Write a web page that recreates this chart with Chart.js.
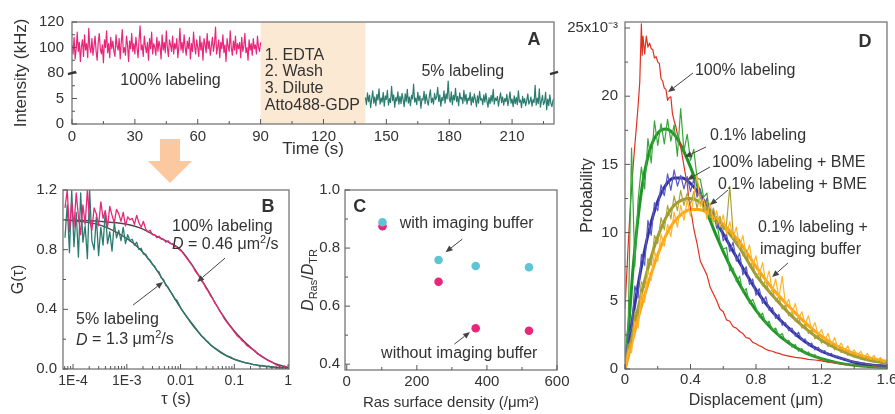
<!DOCTYPE html>
<html>
<head>
<meta charset="utf-8">
<title>Ras diffusion figure</title>
<script src="https://cdn.jsdelivr.net/npm/chart.js@4.4.1/dist/chart.umd.min.js"></script>
<style>
  html, body { margin:0; padding:0; background:#fff; }
  #fig { position:relative; width:895px; height:414px; overflow:hidden; background:#fff; }
  #fig canvas, #fig svg { position:absolute; }
</style>
</head>
<body>
<div id="fig">
  <svg width="895" height="414" style="left:0px;top:0px">
    <polygon points="160,139 180,139 180,161 192,161 170,183 148,161 160,161" fill="#fcc8a0"/>
  </svg>
  <canvas id="chartA" width="575" height="160" style="left:0px;top:0px"></canvas>
  <canvas id="chartB" width="300" height="244" style="left:0px;top:170px"></canvas>
  <canvas id="chartC" width="300" height="244" style="left:300px;top:170px"></canvas>
  <canvas id="chartD" width="340" height="414" style="left:555px;top:0px"></canvas>
</div>
<script>
// ======================= DATA =======================
// ---- Panel A: intensity time traces (kHz) ----
const timeTicks = [0, 15, 30, 45, 60, 75, 90, 105, 120, 135, 150, 165, 180, 195, 210, 225];
const timeTickLabels = ['0', '', '30', '', '60', '', '90', '', '120', '', '150', '', '180', '', '210', ''];
const upperTicks = [80, 90, 100, 110, 120];
const upperTickLabels = ['80', '', '100', '', '120'];
const lowerTicks = [0, 2.5, 5, 7.5, 10];
const lowerTickLabels = ['0', '', '5', '', ''];
const treatmentStart = 90, treatmentEnd = 140;
const pinkStart = 0, pinkEnd = 90;
const pinkIntensity = [
102, 95, 108, 91, 99, 112, 97, 104, 89, 101, 106, 93, 110, 98, 103, 92, 115, 100, 96, 107,
94, 101, 109, 97, 90, 104, 111, 99, 95, 102, 88, 106, 100, 113, 96, 103, 92, 108, 99, 105,
97, 93, 110, 101, 98, 107, 91, 104, 114, 96, 100, 94, 109, 102, 89, 105, 99, 111, 97, 103,
95, 108, 100, 92, 106, 117, 98, 102, 93, 109, 101, 96, 104, 90, 107, 99, 112, 95, 103, 100,
94, 108, 97, 105, 101, 91, 110, 98, 104, 96, 113, 100, 93, 106, 102, 97, 109, 95, 103, 99,
107, 92, 101, 115, 98, 104, 96, 110, 100, 94, 105, 99, 108, 91, 103, 97, 112, 101, 95, 106,
100, 93, 109, 98, 104, 90, 107, 102, 96, 111, 99, 105, 94, 101, 108, 97, 103, 116, 95, 100,
106, 92, 104, 99, 110, 96, 102, 89, 107, 101, 97, 113, 100, 94, 105, 98, 109, 95, 103, 99,
104, 92, 108, 97, 101, 111, 96, 100, 90, 106, 98, 103, 94, 107, 99, 102, 95, 109, 100, 97, 104];
const tealStart = 140, tealEnd = 230;
const tealIntensity = [
5.2, 3.8, 6.1, 4.4, 5.6, 3.2, 4.9, 6.5, 4.1, 5.3, 3.6, 5.8, 4.7, 6.9, 3.9, 5.1, 4.3, 6.2, 3.5, 5.5,
4.8, 6.6, 3.7, 5.0, 4.2, 7.4, 4.6, 5.7, 3.3, 5.2, 4.5, 6.3, 3.9, 5.4, 4.0, 6.0, 4.8, 3.4, 5.9, 4.4,
6.8, 4.1, 5.3, 3.6, 5.6, 4.9, 7.8, 4.3, 5.1, 3.8, 6.2, 4.6, 5.5, 3.1, 5.0, 4.7, 6.4, 4.0, 5.8, 4.5,
3.7, 5.4, 6.7, 4.2, 5.1, 3.9, 6.0, 4.8, 5.3, 7.2, 4.4, 5.7, 3.5, 5.2, 4.6, 6.5, 4.1, 5.9, 4.9, 8.4,
5.0, 4.3, 6.3, 3.8, 5.6, 4.7, 7.0, 4.4, 5.4, 3.6, 6.1, 4.9, 5.2, 4.0, 6.6, 4.5, 5.8, 3.9, 5.1, 4.6,
6.2, 3.7, 5.3, 4.2, 5.9, 4.8, 3.4, 5.5, 4.1, 6.4, 4.7, 5.0, 3.8, 5.7, 4.3, 6.0, 4.5, 3.3, 5.2, 4.0,
5.6, 4.4, 6.8, 3.9, 5.1, 4.6, 5.4, 3.5, 4.9, 6.1, 4.2, 5.3, 3.7, 5.0, 4.4, 5.8, 3.6, 4.8, 6.3, 4.1,
4.9, 3.4, 5.5, 4.0, 5.2, 3.8, 6.5, 4.3, 4.7, 3.2, 5.4, 4.1, 5.0, 3.6, 4.6, 5.9, 3.9, 4.4, 5.3, 3.5,
4.8, 4.2, 7.6, 3.7, 5.1, 4.0, 6.9, 3.3, 4.5, 5.6, 3.8, 4.3, 6.2, 2.8, 4.9, 3.6, 5.7, 4.1, 3.4, 4.6, 5.0];

// ---- Panel B: autocorrelation G(tau) ----
const tauMajorTicks = [1e-4, 1e-3, 0.01, 0.1, 1];
const tauMajorLabels = ['1E-4', '1E-3', '0.01', '0.1', '1'];
const gTicks = [0, 0.2, 0.4, 0.6, 0.8, 1.0, 1.2];
const gTickLabels = ['0.0', '', '0.4', '', '0.8', '', '1.2'];
const bLogTauStart = -4.15, bLogTauStep = 1 / 24;   // lag grid of the measured curves
const g100 = [
1.08, 1.20, 0.92, 1.12, 0.95, 1.18, 1.02, 0.90, 1.10, 0.97, 1.20, 1.00,
0.93, 1.08, 1.04, 0.96, 1.12, 1.01, 1.06, 0.95, 1.09, 1.03, 0.98, 1.07,
1.04, 0.99, 1.05, 0.96, 1.02, 1.00, 1.01, 0.97, 1.03, 0.98, 0.95, 0.99,
0.94, 0.92, 0.93, 0.90, 0.90, 0.88, 0.89, 0.87, 0.87, 0.85, 0.86, 0.84,
0.84, 0.82, 0.82, 0.80, 0.79, 0.77, 0.75, 0.73, 0.71, 0.69, 0.66, 0.64,
0.62, 0.59, 0.57, 0.54, 0.52, 0.49, 0.47, 0.44, 0.42, 0.39, 0.37, 0.34,
0.32, 0.30, 0.28, 0.26, 0.24, 0.22, 0.21, 0.19, 0.18, 0.16, 0.15, 0.14,
0.13, 0.12, 0.10, 0.095, 0.085, 0.075, 0.065, 0.055, 0.05, 0.04, 0.03, 0.025,
0.015, -0.01, 0.02, 0.005];
const g5 = [
0.88, 1.10, 0.78, 1.20, 0.82, 1.05, 0.75, 1.18, 0.85, 0.96, 0.74, 1.20,
0.86, 0.80, 1.02, 0.76, 0.95, 0.83, 1.06, 0.84, 0.92, 0.79, 0.98, 0.88,
0.93, 0.86, 0.95, 0.84, 0.90, 0.86, 0.87, 0.83, 0.85, 0.80, 0.81, 0.77,
0.77, 0.74, 0.73, 0.70, 0.69, 0.66, 0.65, 0.61, 0.60, 0.56, 0.55, 0.52,
0.50, 0.47, 0.46, 0.43, 0.40, 0.38, 0.36, 0.34, 0.32, 0.30, 0.28, 0.26,
0.24, 0.22, 0.21, 0.19, 0.18, 0.16, 0.15, 0.14, 0.13, 0.12, 0.11, 0.10,
0.09, 0.085, 0.08, 0.07, 0.065, 0.06, 0.055, 0.05, 0.045, 0.04, 0.04, 0.035,
0.03, 0.03, 0.025, 0.02, 0.025, 0.02, 0.015, 0.02, 0.01, 0.015, 0.01, 0.005,
0.01, 0.0, 0.01, 0.005];
const fitTau = [7e-5, 3.2e-4, 1e-3, 1.8e-3, 3.2e-3, 5.6e-3, 0.01, 0.018, 0.032, 0.056, 0.1, 0.18, 0.32, 0.56, 1];
const fitG100 = [1.0, 0.99, 0.97, 0.945, 0.90, 0.855, 0.80, 0.675, 0.53, 0.38, 0.255, 0.16, 0.085, 0.038, 0.01];
const fitG5 = [1.0, 0.965, 0.875, 0.80, 0.69, 0.555, 0.41, 0.28, 0.18, 0.11, 0.065, 0.038, 0.022, 0.012, 0.007];

// ---- Panel C: D_Ras / D_TR vs surface density ----
const densityTicks = [0, 100, 200, 300, 400, 500, 600];
const densityTickLabels = ['0', '', '200', '', '400', '', '600'];
const ratioTicks = [0.4, 0.5, 0.6, 0.7, 0.8, 0.9, 1.0];
const ratioTickLabels = ['0.4', '', '0.6', '', '0.8', '', '1.0'];
const rasDensity = [262, 368, 520];
const ratioWithBuffer = [0.759, 0.738, 0.734];
const ratioWithoutBuffer = [0.684, 0.524, 0.515];

// ---- Panel D: displacement distributions (x10^-3) ----
const dispTicks = [0, 0.2, 0.4, 0.6, 0.8, 1.0, 1.2, 1.4, 1.6];
const dispTickLabels = ['0', '', '0.4', '', '0.8', '', '1.2', '', '1.6'];
const probTicks = [0, 2.5, 5, 7.5, 10, 12.5, 15, 17.5, 20, 22.5, 25];
const probTickLabels = ['0', '', '5', '', '10', '', '15', '', '20', '', '25x10\u207B\u00B3'];
const redDisp = [0, 0.01, 0.02, 0.03, 0.04, 0.05, 0.06, 0.07, 0.08, 0.09, 0.10, 0.105,
  0.11, 0.12, 0.13, 0.14, 0.15, 0.16, 0.17, 0.18, 0.19, 0.20, 0.21, 0.22, 0.23, 0.24, 0.25, 0.26, 0.27, 0.28, 0.29, 0.30,
  0.31, 0.32, 0.33, 0.34, 0.35, 0.36, 0.37, 0.38, 0.39, 0.40, 0.42, 0.44, 0.46, 0.48, 0.50, 0.52, 0.54, 0.56, 0.58, 0.60,
  0.62, 0.64, 0.66, 0.68, 0.70, 0.72, 0.74, 0.76, 0.78, 0.80, 0.82, 0.84, 0.86, 0.88, 0.90, 0.92, 0.94, 0.96, 0.98, 1.00,
  1.04, 1.08, 1.12, 1.16, 1.20, 1.24, 1.28, 1.32, 1.36, 1.40, 1.45, 1.50, 1.55, 1.60];
const redProb = [4.4, 6.8, 9.2, 11.4, 13.2, 14.9, 16.4, 17.8, 19.3, 21.0, 25.3, 23.0,
  24.4, 23.1, 24.4, 23.6, 23.9, 23.5, 23.4, 22.8, 22.9, 22.5, 22.4, 21.3, 21.1, 20.6, 20.5, 19.7, 19.9, 19.95, 18.7, 18.2,
  17.8, 17.2, 16.9, 16.3, 15.6, 14.9, 14.2, 13.6, 12.4, 11.8, 10.3, 9.2, 7.9, 7.4, 6.9, 6.0, 5.5, 5.0, 4.4, 4.2,
  3.6, 3.5, 3.1, 3.0, 2.75, 2.6, 2.3, 2.25, 1.95, 1.85, 1.7, 1.6, 1.45, 1.35, 1.3, 1.2, 1.15, 1.05, 1.0, 0.95,
  0.85, 0.8, 0.7, 0.66, 0.6, 0.5, 0.45, 0.38, 0.32, 0.28, 0.22, 0.18, 0.14, 0.1];
const histStep = 0.02;   // bin width of the measured histograms
const greenProb = [0.3, 3.5, 16.2, 7.5, 12.4, 14.8, 13.2, 16.9, 15.1, 18.2,
  16.4, 18.0, 16.5, 18.3, 16.7, 17.9, 15.6, 19.1, 16.0, 17.2,
  15.3, 16.1, 14.0, 13.9, 12.6, 12.9, 11.2, 10.8, 10.9, 9.3,
  8.8, 8.9, 7.2, 7.4, 6.4, 6.8, 5.6, 5.9, 4.8, 5.1,
  4.5, 3.8, 4.1, 3.3, 3.5, 2.8, 3.0, 2.4, 2.6, 2.0,
  2.1, 1.6, 1.8, 1.3, 1.5, 1.1, 1.25, 0.9, 1.05, 0.75,
  0.8, 0.6, 0.7, 0.5, 0.55, 0.4, 0.45, 0.35, 0.38, 0.3,
  0.28, 0.25, 0.24, 0.2, 0.19, 0.16, 0.15, 0.12, 0.12, 0.1, 0.09];
const blueProb = [0.2, 2.4, 3.0, 6.1, 5.2, 8.4, 7.6, 10.9, 9.8, 12.2,
  11.6, 13.5, 12.7, 14.3, 13.1, 14.6, 13.4, 14.2, 13.2, 14.1,
  13.0, 13.9, 12.6, 13.2, 11.9, 12.5, 11.1, 11.6, 10.3, 10.8,
  9.4, 9.9, 8.6, 9.3, 7.9, 8.5, 6.9, 7.5, 6.2, 6.6,
  5.4, 5.9, 4.8, 5.3, 4.3, 4.5, 3.7, 4.0, 3.2, 3.4,
  2.8, 3.0, 2.4, 2.7, 2.1, 2.2, 1.7, 1.9, 1.4, 1.6,
  1.2, 1.35, 1.0, 1.15, 0.85, 0.95, 0.7, 0.8, 0.6, 0.62,
  0.48, 0.52, 0.4, 0.44, 0.33, 0.36, 0.27, 0.3, 0.22, 0.24, 0.19];
const oliveProb = [0.3, 1.8, 2.0, 4.2, 3.9, 6.4, 6.0, 8.1, 7.6, 9.8,
  9.2, 11.1, 10.2, 12.0, 11.0, 12.7, 11.6, 13.1, 12.0, 12.9,
  12.1, 13.0, 11.8, 12.8, 11.6, 12.3, 11.1, 11.8, 10.6, 11.2,
  10.2, 10.6, 13.4, 10.0, 9.1, 9.5, 8.3, 8.7, 7.5, 7.8,
  6.7, 7.1, 6.1, 6.5, 5.6, 5.8, 5.0, 5.3, 4.4, 4.7,
  3.9, 4.2, 3.5, 3.8, 3.0, 3.3, 2.6, 2.9, 2.2, 2.5,
  1.9, 2.15, 1.65, 1.9, 1.4, 1.6, 1.2, 1.4, 1.0, 1.2,
  0.85, 1.05, 0.7, 0.95, 0.6, 0.85, 0.5, 0.7, 0.45, 0.6, 0.4];
const orangeProb = [0.1, 1.4, 1.2, 3.5, 3.0, 5.6, 4.9, 7.2, 6.5, 8.6,
  7.9, 9.9, 9.0, 10.6, 9.7, 11.5, 10.4, 12.0, 10.9, 12.4,
  11.2, 12.6, 14.3, 11.9, 12.5, 11.0, 12.2, 10.7, 11.6, 10.4,
  11.3, 9.9, 10.8, 9.6, 10.4, 8.9, 9.8, 8.3, 9.1, 7.6,
  8.3, 6.9, 7.8, 6.3, 7.2, 5.7, 6.6, 5.2, 6.8, 4.7,
  5.1, 4.1, 4.8, 3.7, 4.2, 3.3, 3.9, 2.9, 3.4, 2.5,
  2.9, 2.1, 2.6, 1.8, 2.3, 1.5, 1.9, 1.35, 1.7, 1.15,
  1.4, 1.0, 1.3, 0.85, 1.15, 0.7, 1.0, 0.6, 0.85, 0.5, 0.7];
const fitDisp = [0, 0.025, 0.05, 0.1, 0.15, 0.2, 0.25, 0.3, 0.35, 0.4, 0.45, 0.5, 0.6, 0.7, 0.8, 0.9, 1.0, 1.1, 1.2, 1.3, 1.4, 1.5, 1.6];
const greenFit = [0, 3.5, 7.5, 13.0, 16.0, 17.3, 17.6, 17.2, 16.2, 14.8, 13.2, 11.5, 8.6, 6.2, 4.3, 2.9, 1.9, 1.2, 0.75, 0.45, 0.27, 0.16, 0.09];
const blueFit = [0, 2.0, 4.0, 7.5, 10.3, 12.3, 13.5, 14.0, 14.0, 13.6, 12.9, 12.0, 9.9, 7.8, 5.8, 4.2, 3.0, 2.0, 1.3, 0.85, 0.5, 0.3, 0.2];
const oliveFit = [0, 1.4, 2.8, 5.5, 7.8, 9.7, 11.1, 12.0, 12.4, 12.5, 12.3, 11.8, 10.5, 8.9, 6.9, 5.4, 4.1, 3.0, 2.1, 1.45, 0.95, 0.62, 0.42];
const orangeFit = [0, 1.15, 2.3, 4.6, 6.6, 8.4, 9.8, 10.8, 11.4, 11.7, 11.7, 11.5, 10.6, 9.3, 7.5, 5.9, 4.6, 3.4, 2.4, 1.65, 1.15, 0.8, 0.54];

// ======================= STYLE / HELPERS =======================
const FONT = "'Liberation Sans', Arial, Helvetica, sans-serif";
const TXT = '#333';
const PINK = '#e8267a', TEAL = '#2b7b6f', CYAN = '#5ec5d5';
Chart.defaults.font.family = FONT;
Chart.defaults.color = TXT;

const evenSeries = (start, end, vals) => vals.map((v, i) => ({ x: start + i * (end - start) / (vals.length - 1), y: v }));
const xySeries = (xs, ys) => xs.map((x, i) => ({ x: x, y: ys[i] }));
const fixW = w => s => { s.width = w; s.paddingTop = 0; s.paddingBottom = 0; };
const fixH = h => s => { s.height = h; s.paddingLeft = 0; s.paddingRight = 0; };
const setTicks = list => s => { s.ticks = list.map(v => ({ value: v })); };
const labelsFrom = labels => (v, i) => labels[i];

function baseOptions() {
  return {
    responsive: false, animation: false, devicePixelRatio: 1,
    plugins: { legend: { display: false }, tooltip: { enabled: false } },
    elements: { point: { radius: 0 }, line: { borderJoinStyle: 'round' } }
  };
}
function axis(extra) {
  return Object.assign({ grid: { display: false, drawTicks: false }, border: { display: false } }, extra);
}

function drawRich(ctx, segs, x, y, size, align) {
  let total = 0;
  const parts = segs.map(s => {
    const st = s[1] || '';
    const small = st.includes('sup') || st.includes('sub');
    const fs = small ? Math.round(size * 0.68) : size;
    const f = (st.includes('i') && !st.includes('sub') ? 'italic ' : (st === 'i' ? 'italic ' : '')) + (st.includes('b') && !st.includes('sub') ? 'bold ' : '') + fs + 'px ' + FONT;
    ctx.font = f;
    const w = ctx.measureText(s[0]).width;
    total += w;
    return { t: s[0], f: f, w: w, dy: st.includes('sup') ? -size * 0.33 : (st.includes('sub') ? size * 0.3 : 0) };
  });
  let cx = align === 'center' ? x - total / 2 : (align === 'right' ? x - total : x);
  ctx.textAlign = 'left'; ctx.textBaseline = 'middle';
  parts.forEach(p => { ctx.font = p.f; ctx.fillText(p.t, cx, y + p.dy); cx += p.w; });
}
function drawArrow(ctx, x1, y1, x2, y2) {
  const ang = Math.atan2(y2 - y1, x2 - x1), L = 7, W = 3;
  const bx = x2 - L * Math.cos(ang), by = y2 - L * Math.sin(ang);
  ctx.strokeStyle = '#444'; ctx.fillStyle = '#444'; ctx.lineWidth = 1;
  ctx.beginPath(); ctx.moveTo(x1, y1); ctx.lineTo(bx, by); ctx.stroke();
  ctx.beginPath(); ctx.moveTo(x2, y2);
  ctx.lineTo(bx - W * Math.sin(ang), by + W * Math.cos(ang));
  ctx.lineTo(bx + W * Math.sin(ang), by - W * Math.cos(ang));
  ctx.closePath(); ctx.fill();
}
function drawTicks(chart) {
  const a = chart.chartArea, ctx = chart.ctx;
  ctx.strokeStyle = '#555'; ctx.lineWidth = 1;
  Object.values(chart.scales).forEach(s => {
    s.ticks.forEach(t => {
      const major = t.label !== '' && t.label != null;
      const len = major ? 5 : 3;
      const p = s.getPixelForValue(t.value);
      if (s.isHorizontal()) {
        if (p < a.left - 0.5 || p > a.right + 0.5) return;
        ctx.beginPath(); ctx.moveTo(p, a.bottom); ctx.lineTo(p, a.bottom - len); ctx.stroke();
      } else {
        if (p < a.top - 0.5 || p > a.bottom + 0.5) return;
        ctx.beginPath(); ctx.moveTo(a.left, p); ctx.lineTo(a.left + len, p); ctx.stroke();
      }
    });
  });
}
function makeDeco(cfg) {
  const P = (chart, xa, ya, x, y) => [chart.scales[xa].getPixelForValue(x), chart.scales[ya].getPixelForValue(y)];
  return {
    id: 'deco' + cfg.name,
    beforeDatasetsDraw(chart) {
      const ctx = chart.ctx, a = chart.chartArea;
      if (cfg.band) {
        const xs = chart.scales.x;
        const x1 = xs.getPixelForValue(cfg.band.from), x2 = xs.getPixelForValue(cfg.band.to);
        ctx.save(); ctx.fillStyle = cfg.band.color; ctx.fillRect(x1, a.top, x2 - x1, a.bottom - a.top); ctx.restore();
      }
    },
    afterDatasetsDraw(chart) {
      const ctx = chart.ctx, a = chart.chartArea;
      ctx.save();
      ctx.strokeStyle = '#808080'; ctx.lineWidth = 1.4;
      ctx.strokeRect(a.left, a.top, a.right - a.left, a.bottom - a.top);
      drawTicks(chart);
      if (cfg.breakAxis) {
        const yb = chart.scales[cfg.breakAxis].top;
        ctx.strokeStyle = '#333'; ctx.lineWidth = 2.4;
        [a.left, a.right].forEach(xb => { ctx.beginPath(); ctx.moveTo(xb - 4, yb + 1.2); ctx.lineTo(xb + 4, yb - 1.2); ctx.stroke(); });
      }
      (cfg.markers || []).forEach(m => {
        const p = P(chart, 'x', 'y', m.x, m.y);
        ctx.fillStyle = m.color; ctx.beginPath(); ctx.arc(p[0], p[1], m.r, 0, 2 * Math.PI); ctx.fill();
      });
      (cfg.arrows || []).forEach(r => {
        const p1 = P(chart, 'x', cfg.ya || 'y', r[0], r[1]), p2 = P(chart, 'x', cfg.ya || 'y', r[2], r[3]);
        drawArrow(ctx, p1[0], p1[1], p2[0], p2[1]);
      });
      ctx.fillStyle = TXT;
      (cfg.texts || []).forEach(t => {
        const p = P(chart, 'x', cfg.ya || 'y', t.x, t.y);
        ctx.fillStyle = TXT;
        drawRich(ctx, t.segs, p[0], p[1], t.size || 16, t.align || 'left');
      });
      if (cfg.yTitle) {
        ctx.save();
        ctx.translate(a.left - cfg.yTitle.offset, (a.top + a.bottom) / 2);
        ctx.rotate(-Math.PI / 2);
        ctx.fillStyle = TXT;
        drawRich(ctx, cfg.yTitle.segs, 0, 0, cfg.yTitle.size, 'center');
        ctx.restore();
      }
      ctx.restore();
    }
  };
}

// ======================= PANEL A =======================
new Chart(document.getElementById('chartA'), {
  type: 'line',
  data: { datasets: [
    { data: evenSeries(pinkStart, pinkEnd, pinkIntensity), yAxisID: 'yHi', borderColor: PINK, borderWidth: 1.2 },
    { data: evenSeries(tealStart, tealEnd, tealIntensity), yAxisID: 'yLo', borderColor: TEAL, borderWidth: 1.2 }
  ] },
  options: Object.assign(baseOptions(), {
    layout: { padding: { left: 0, top: 22, right: 21, bottom: 0 } },
    scales: {
      x: axis({ type: 'linear', min: 0, max: 230, afterBuildTicks: setTicks(timeTicks), afterFit: fixH(36),
        ticks: { autoSkip: false, maxRotation: 0, padding: 4, font: { size: 15 }, callback: labelsFrom(timeTickLabels) },
        title: { display: true, text: 'Time (s)', font: { size: 17 }, padding: { top: 0, bottom: 0 } } }),
      yLo: axis({ type: 'linear', position: 'left', stack: 'A', stackWeight: 1, min: 0, max: 10,
        afterBuildTicks: setTicks(lowerTicks), afterFit: fixW(72),
        ticks: { autoSkip: false, padding: 8, font: { size: 15 }, callback: labelsFrom(lowerTickLabels) } }),
      yHi: axis({ type: 'linear', position: 'left', stack: 'A', stackWeight: 1, min: 80, max: 120,
        afterBuildTicks: setTicks(upperTicks), afterFit: fixW(72),
        ticks: { autoSkip: false, padding: 8, font: { size: 15 }, callback: labelsFrom(upperTickLabels) } })
    }
  }),
  plugins: [makeDeco({
    name: 'A', ya: 'yLo', breakAxis: 'yLo',
    band: { from: treatmentStart, to: treatmentEnd, color: '#fce9d3' },
    yTitle: { segs: [['Intensity (kHz)']], size: 17, offset: 51 },
    texts: [
      { segs: [['100% labeling']], x: 47, y: 8.6, align: 'center' },
      { segs: [['5% labeling']], x: 186.5, y: 10.2, align: 'center' },
      { segs: [['A', 'b']], x: 220.4, y: 16.5, align: 'center', size: 18 },
      { segs: [['1. EDTA']], x: 92, y: 13.5 },
      { segs: [['2. Wash']], x: 92, y: 10.2 },
      { segs: [['3. Dilute']], x: 92, y: 6.9 },
      { segs: [['Atto488-GDP']], x: 92, y: 3.6 }
    ]
  })]
});

// ======================= PANEL B =======================
const tauTickList = [];
[1e-5, 1e-4, 1e-3, 0.01, 0.1, 1].forEach(dec => [1, 2, 3, 4, 5, 6, 7, 8, 9].forEach(m => {
  const v = +(m * dec).toPrecision(3);
  if (v >= 6.5e-5 && v <= 1.04) tauTickList.push(v);
}));
const tauLabels = tauTickList.map(v => { const k = tauMajorTicks.findIndex(t => Math.abs(t - v) / t < 1e-6); return k >= 0 ? tauMajorLabels[k] : ''; });
const lagSeries = vals => vals.map((v, i) => ({ x: Math.pow(10, bLogTauStart + i * bLogTauStep), y: v }));

new Chart(document.getElementById('chartB'), {
  type: 'line',
  data: { datasets: [
    { data: lagSeries(g100), borderColor: PINK, borderWidth: 1.3 },
    { data: lagSeries(g5), borderColor: TEAL, borderWidth: 1.3 },
    { data: xySeries(fitTau, fitG100), borderColor: '#4a4a4a', borderWidth: 1.4, cubicInterpolationMode: 'monotone' },
    { data: xySeries(fitTau, fitG5), borderColor: '#4a4a4a', borderWidth: 1.4, cubicInterpolationMode: 'monotone' }
  ] },
  options: Object.assign(baseOptions(), {
    layout: { padding: { left: 0, top: 20, right: 11, bottom: 0 } },
    scales: {
      x: axis({ type: 'logarithmic', min: 6.5e-5, max: 1.04, afterBuildTicks: setTicks(tauTickList), afterFit: fixH(45),
        ticks: { autoSkip: false, maxRotation: 0, padding: 4, font: { size: 14 }, callback: labelsFrom(tauLabels) },
        title: { display: true, text: '\u03C4 (s)', font: { size: 16 }, padding: { top: 0, bottom: 5 } } }),
      y: axis({ type: 'linear', min: 0, max: 1.2, afterBuildTicks: setTicks(gTicks), afterFit: fixW(63),
        ticks: { autoSkip: false, padding: 6, font: { size: 15 }, callback: labelsFrom(gTickLabels) },
        title: { display: true, text: 'G(\u03C4)', font: { size: 16 }, padding: { top: 9, bottom: 0 } } })
    }
  }),
  plugins: [makeDeco({
    name: 'B',
    texts: [
      { segs: [['B', 'b']], x: 0.425, y: 1.086, align: 'center', size: 18 },
      { segs: [['100% labeling']], x: 6.95e-3, y: 0.952 },
      { segs: [['D', 'i'], [' = 0.46 \u03BCm'], ['2', 'sup'], ['/s']], x: 6.95e-3, y: 0.831 },
      { segs: [['5% labeling']], x: 1.14e-4, y: 0.328 },
      { segs: [['D', 'i'], [' = 1.3 \u03BCm'], ['2', 'sup'], ['/s']], x: 1.14e-4, y: 0.194 }
    ],
    arrows: [[0.0673, 0.744, 0.0203, 0.583], [1.31e-3, 0.429, 4.72e-3, 0.583]]
  })]
});

// ======================= PANEL C =======================
new Chart(document.getElementById('chartC'), {
  type: 'scatter',
  data: { datasets: [
    { data: xySeries(rasDensity, ratioWithoutBuffer), backgroundColor: PINK, pointRadius: 4.3, borderWidth: 0 },
    { data: xySeries(rasDensity, ratioWithBuffer), backgroundColor: CYAN, pointRadius: 4.3, borderWidth: 0 }
  ] },
  options: Object.assign(baseOptions(), {
    layout: { padding: { left: 0, top: 20, right: 43, bottom: 0 } },
    scales: {
      x: axis({ type: 'linear', min: -5, max: 600, afterBuildTicks: setTicks(densityTicks), afterFit: fixH(44),
        ticks: { autoSkip: false, maxRotation: 0, padding: 3, font: { size: 15 }, callback: labelsFrom(densityTickLabels) },
        title: { display: true, text: 'Ras surface density (/\u03BCm\u00B2)', font: { size: 15 }, padding: { top: 0, bottom: 2 } } }),
      y: axis({ type: 'linear', min: 0.38, max: 1.0, afterBuildTicks: setTicks(ratioTicks), afterFit: fixW(45),
        ticks: { autoSkip: false, padding: 5, font: { size: 15 }, callback: labelsFrom(ratioTickLabels) } })
    }
  }),
  plugins: [makeDeco({
    name: 'C',
    yTitle: { segs: [['D', 'i'], ['Ras', 'sub'], ['/'], ['D', 'i'], ['TR', 'sub']], size: 16, offset: 36 },
    markers: [{ x: 102, y: 0.875, r: 4.3, color: PINK }, { x: 102, y: 0.889, r: 4.3, color: CYAN }],
    texts: [
      { segs: [['C', 'b']], x: 37, y: 0.941, align: 'center', size: 18 },
      { segs: [['with imaging buffer']], x: 151, y: 0.886 },
      { segs: [['without imaging buffer']], x: 321, y: 0.435, align: 'center' }
    ],
    arrows: [[330, 0.831, 282, 0.786], [307, 0.469, 352, 0.511]]
  })]
});

// ======================= PANEL D =======================
const histSeries = vals => vals.map((v, i) => ({ x: i * histStep, y: v }));
new Chart(document.getElementById('chartD'), {
  type: 'line',
  data: { datasets: [
    { data: histSeries(orangeProb), borderColor: '#ffb42a', borderWidth: 1.2 },
    { data: histSeries(oliveProb), borderColor: '#aaa43a', borderWidth: 1.2 },
    { data: histSeries(blueProb), borderColor: '#5a5ac4', borderWidth: 1.2 },
    { data: histSeries(greenProb), borderColor: '#3aa63a', borderWidth: 1.2 },
    { data: xySeries(redDisp, redProb), borderColor: '#e0301f', borderWidth: 1.2 },
    { data: xySeries(fitDisp, orangeFit), borderColor: '#ffa514', borderWidth: 3, cubicInterpolationMode: 'monotone' },
    { data: xySeries(fitDisp, oliveFit), borderColor: '#9e9a2e', borderWidth: 3, cubicInterpolationMode: 'monotone' },
    { data: xySeries(fitDisp, blueFit), borderColor: '#3434a0', borderWidth: 3, cubicInterpolationMode: 'monotone' },
    { data: xySeries(fitDisp, greenFit), borderColor: '#1e9528', borderWidth: 3, cubicInterpolationMode: 'monotone' }
  ] },
  options: Object.assign(baseOptions(), {
    layout: { padding: { left: 0, top: 22, right: 8, bottom: 0 } },
    scales: {
      x: axis({ type: 'linear', min: 0, max: 1.6, afterBuildTicks: setTicks(dispTicks), afterFit: fixH(45),
        ticks: { autoSkip: false, maxRotation: 0, padding: 2, font: { size: 15 }, callback: labelsFrom(dispTickLabels) },
        title: { display: true, text: 'Displacement (\u03BCm)', font: { size: 16 }, padding: { top: 0, bottom: 4 } } }),
      y: axis({ type: 'linear', min: 0, max: 25.44, afterBuildTicks: setTicks(probTicks), afterFit: fixW(70),
        ticks: { autoSkip: false, padding: 7, font: { size: 15 }, callback: labelsFrom(probTickLabels) },
        title: { display: true, text: 'Probability', font: { size: 16 }, padding: { top: 23, bottom: 0 } } })
    }
  }),
  plugins: [makeDeco({
    name: 'D',
    texts: [
      { segs: [['D', 'b']], x: 1.466, y: 23.97, align: 'center', size: 18 },
      { segs: [['100% labeling']], x: 0.427, y: 21.9 },
      { segs: [['0.1% labeling']], x: 0.519, y: 17.08 },
      { segs: [['100% labeling + BME']], x: 0.531, y: 15.1 },
      { segs: [['0.1% labeling + BME']], x: 0.568, y: 13.49 },
      { segs: [['0.1% labeling +']], x: 0.812, y: 10.34 },
      { segs: [['imaging buffer']], x: 0.824, y: 8.72 }
    ],
    arrows: [[0.415, 21.7, 0.263, 20.3], [0.495, 16.28, 0.366, 15.54], [0.519, 14.81, 0.379, 13.86],
             [0.629, 13.12, 0.519, 12.02], [0.995, 7.77, 0.898, 6.74]]
  })]
});
</script>
</body>
</html>
